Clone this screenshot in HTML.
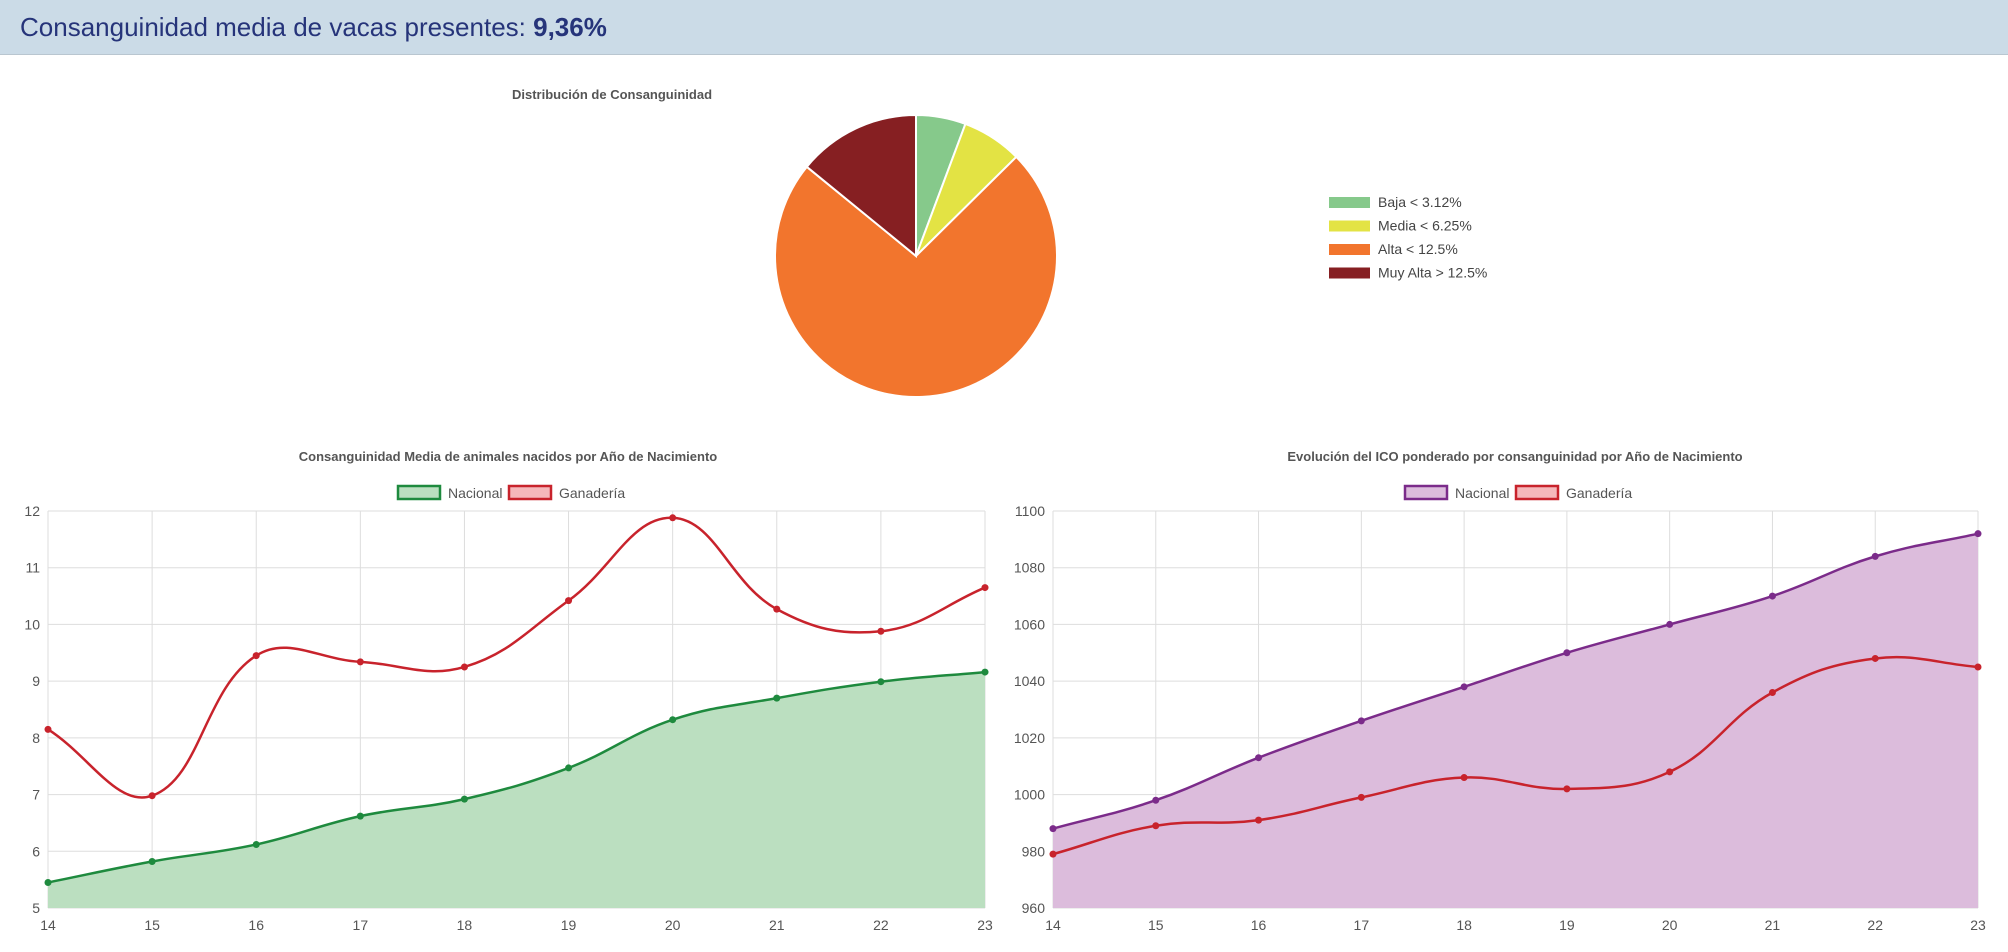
<!DOCTYPE html>
<html><head><meta charset="utf-8">
<style>
html,body{margin:0;padding:0;background:#fff;width:2008px;height:952px;overflow:hidden;font-family:"Liberation Sans",sans-serif;}
#hdr{position:absolute;left:0;top:0;width:2008px;height:54px;background:#cbdbe7;border-bottom:1px solid #b9c6d0;}
#hdr span{position:absolute;left:20px;top:12px;font-size:26px;color:#26347a;}
#hdr b{font-weight:bold;}
svg{position:absolute;left:0;top:0;}
</style></head><body>
<div id="hdr"><span>Consanguinidad media de vacas presentes: <b>9,36%</b></span></div>
<svg id="svg" width="2008" height="952"></svg>
<script>
const pieLabels=["Baja < 3.12%","Media < 6.25%","Alta < 12.5%","Muy Alta > 12.5%"];
const pieValues=[5.7,6.9,73.3,14.1];
const pieColors=["#86c98b","#e3e344","#f2752d","#861f22"];
const years=["14","15","16","17","18","19","20","21","22","23"];
const consNacional=[5.45,5.82,6.12,6.62,6.92,7.47,8.32,8.70,8.99,9.16];
const consGanaderia=[8.15,6.98,9.45,9.34,9.25,10.42,11.88,10.27,9.88,10.65];
const consTicks=[5,6,7,8,9,10,11,12];
const icoNacional=[988,998,1013,1026,1038,1050,1060,1070,1084,1092];
const icoGanaderia=[979,989,991,999,1006,1002,1008,1036,1048,1045];
const icoTicks=[960,980,1000,1020,1040,1060,1080,1100];

const NS="http://www.w3.org/2000/svg";
const svg=document.getElementById('svg');
function mk(tag,attrs,parent){const e=document.createElementNS(NS,tag);for(const k in attrs)e.setAttribute(k,attrs[k]);(parent||svg).appendChild(e);return e;}
function txt(x,y,s,attrs){const t=mk('text',Object.assign({x:x,y:y,'font-family':'Liberation Sans, sans-serif'},attrs));t.textContent=s;return t;}

const t1=txt(612,99,"Distribución de Consanguinidad",{'font-size':13,'font-weight':'bold','fill':'#555','text-anchor':'middle'});


const cx=916,cy=256,r=141;
const tot=pieValues.reduce((a,b)=>a+b,0);
let acc=0;
pieValues.forEach((v,i)=>{
  const a0=acc/tot*2*Math.PI; acc+=v; const a1=acc/tot*2*Math.PI;
  const x0=cx+r*Math.sin(a0),y0=cy-r*Math.cos(a0),x1=cx+r*Math.sin(a1),y1=cy-r*Math.cos(a1);
  const large=(a1-a0)>Math.PI?1:0;
  const p=mk('path',{d:`M${cx},${cy}L${x0},${y0}A${r},${r} 0 ${large} 1 ${x1},${y1}Z`,fill:pieColors[i],stroke:'#fff','stroke-width':2});
  
  
});
pieLabels.forEach((l,i)=>{
  const y=197+i*23.5;
  const s=mk('rect',{x:1329,y:y,width:41,height:11,fill:pieColors[i]});
  
  
  const t=txt(1378,y+10,l,{'font-size':14,fill:'#444'});
  
  
});

function spline(pts){
  const T=0.4;let d=`M${pts[0][0]},${pts[0][1]}`;
  const cps=pts.map((p,i)=>{
    const prev=pts[Math.max(0,i-1)],next=pts[Math.min(pts.length-1,i+1)];
    const d01=Math.hypot(p[0]-prev[0],p[1]-prev[1]),d12=Math.hypot(next[0]-p[0],next[1]-p[1]);
    let fa=d01/(d01+d12)||0,fb=d12/(d01+d12)||0;fa*=T;fb*=T;
    return [[p[0]-fa*(next[0]-prev[0]),p[1]-fa*(next[1]-prev[1])],[p[0]+fb*(next[0]-prev[0]),p[1]+fb*(next[1]-prev[1])]];
  });
  for(let i=1;i<pts.length;i++){d+=`C${cps[i-1][1][0]},${cps[i-1][1][1]} ${cps[i][0][0]},${cps[i][0][1]} ${pts[i][0]},${pts[i][1]}`;}
  return d;
}

function lineChart(o){
  const {x0,x1,y0,y1,ticks,title,tcx,nat,gan,natLine,natFill,prefix}=o;
  const ymin=ticks[0],ymax=ticks[ticks.length-1];
  const X=i=>x0+(x1-x0)*i/(years.length-1);
  const Y=v=>y1-(y1-y0)*(v-ymin)/(ymax-ymin);
  const tt=txt(tcx,461,title,{'font-size':13,'font-weight':'bold',fill:'#555','text-anchor':'middle'});
  
  
  const lw=[["Nacional",natFill,natLine],["Ganadería","#f5b8bb","#c8232c"]];
  let lx=tcx-110;
  lw.forEach((l,i)=>{
    const b=mk('rect',{x:lx,y:486,width:42,height:13,fill:l[1],stroke:l[2],'stroke-width':2.5});
    
    
    const t=txt(lx+50,498,l[0],{'font-size':14,fill:'#555'});
    
    
    lx+=i==0?111:0;
  });
  const g=mk('g',{});
  
  
  ticks.forEach(v=>{
    mk('line',{x1:x0,x2:x1,y1:Y(v),y2:Y(v),stroke:'#ddd','stroke-width':1},g);
    const t=txt(x0-8,Y(v)+5,String(v),{'font-size':14,fill:'#555','text-anchor':'end'});
    
    
  });
  years.forEach((y,i)=>{
    mk('line',{x1:X(i),x2:X(i),y1:y0,y2:y1,stroke:'#ddd','stroke-width':1},g);
    const t=txt(X(i),y1+22,y,{'font-size':14,fill:'#555','text-anchor':'middle'});
    
    
  });
  const np=nat.map((v,i)=>[X(i),Y(v)]);
  const gp=gan.map((v,i)=>[X(i),Y(v)]);
  const f=mk('path',{d:spline(np)+`L${X(years.length-1)},${y1}L${x0},${y1}Z`,fill:natFill});
  
  
  const nl=mk('path',{d:spline(np),fill:'none',stroke:natLine,'stroke-width':2.5});
  
  
  const gl=mk('path',{d:spline(gp),fill:'none',stroke:'#c8232c','stroke-width':2.5});
  
  
  np.forEach(p=>{const c=mk('circle',{cx:p[0],cy:p[1],r:3.5,fill:natLine});
    
    });
  gp.forEach(p=>{const c=mk('circle',{cx:p[0],cy:p[1],r:3.5,fill:'#c8232c'});
    
    });
}
lineChart({x0:48,x1:985,y0:511,y1:908,ticks:consTicks,title:"Consanguinidad Media de animales nacidos por Año de Nacimiento",tcx:508,nat:consNacional,gan:consGanaderia,natLine:"#1e8a3e",natFill:"#bbdfc0",prefix:"cons-chart"});
lineChart({x0:1053,x1:1978,y0:511,y1:908,ticks:icoTicks,title:"Evolución del ICO ponderado por consanguinidad por Año de Nacimiento",tcx:1515,nat:icoNacional,gan:icoGanaderia,natLine:"#7b2b8a",natFill:"#dcbcdc",prefix:"ico-chart"});
</script>
</body></html>
